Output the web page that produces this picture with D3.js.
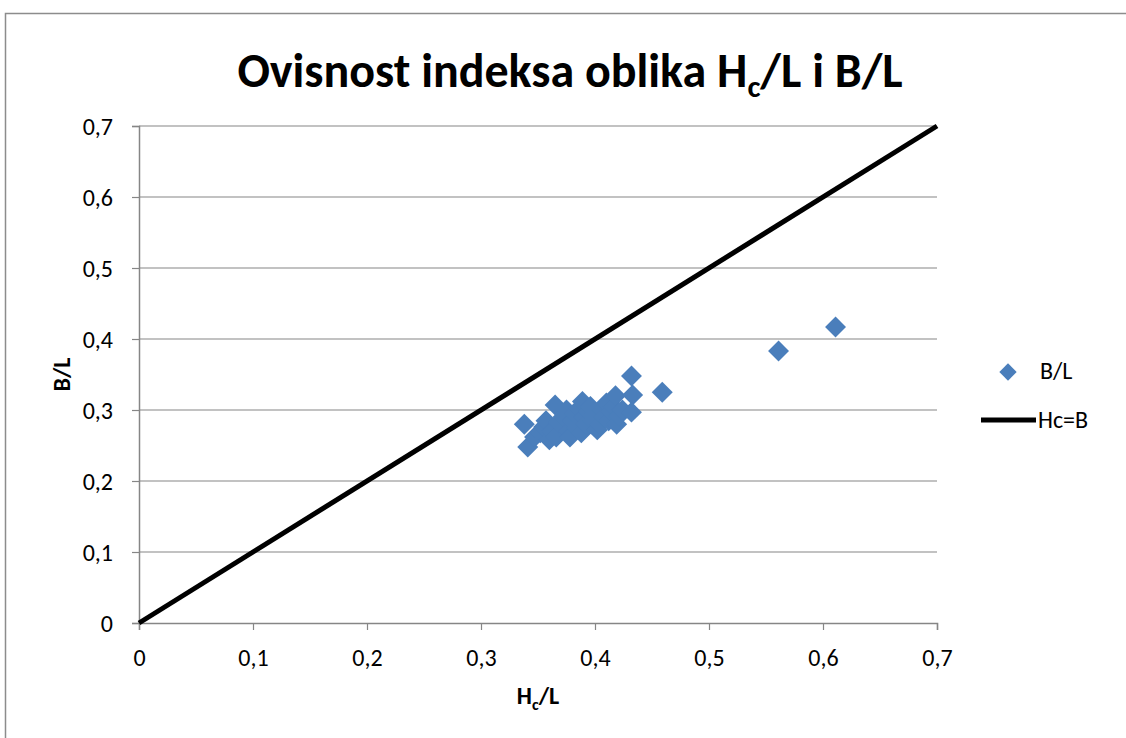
<!DOCTYPE html>
<html>
<head>
<meta charset="utf-8">
<script src="https://cdn.jsdelivr.net/npm/d3@7"></script>
<style>
body{margin:0;background:#fff;}
text{font-family:Carlito,"Liberation Sans Narrow","Open Sans",sans-serif;}
</style>
</head>
<body>
<div id="chart"></div>
<script>
// B/L vs Hc/L
var hcL = [0.338,0.341,0.347,0.352,0.355,0.357,0.360,0.362,0.365,0.366,0.368,0.372,0.375,0.377,0.378,0.380,0.382,0.384,0.386,0.388,0.389,0.390,0.392,0.394,0.396,0.398,0.400,0.402,0.404,0.406,0.408,0.410,0.412,0.414,0.416,0.418,0.419,0.421,0.424,0.432,0.433,0.432,0.459,0.561,0.611];
var bL  = [0.280,0.248,0.262,0.268,0.276,0.285,0.258,0.270,0.307,0.262,0.282,0.290,0.300,0.270,0.262,0.285,0.295,0.275,0.302,0.268,0.312,0.290,0.280,0.298,0.305,0.285,0.295,0.272,0.280,0.300,0.290,0.310,0.285,0.298,0.305,0.320,0.280,0.292,0.300,0.348,0.321,0.297,0.325,0.383,0.417];
var lineHc = [0,0.7];
var lineB  = [0,0.7];
var ticks = [0,0.1,0.2,0.3,0.4,0.5,0.6,0.7];

var W = 1126, H = 738;
var mLeft = 139, mRight = 937, mTop = 126, mBottom = 623;
var blue = "#4a7ebb";

var svg = d3.select("#chart").append("svg")
	.attr("width", W).attr("height", H);

svg.append("rect")
	.attr("x", 5.5).attr("y", 13.5)
	.attr("width", W+10).attr("height", H)
	.attr("fill", "#fff").attr("stroke", "#8c8c8c").attr("stroke-width", 1.5);

var x = d3.scaleLinear().domain([0,0.7]).range([mLeft,mRight]);
var y = d3.scaleLinear().domain([0,0.7]).range([mBottom,mTop]);
var fmt = function(d){ return d3.format(".1~f")(d).replace(".", ","); };

// grid
svg.append("g").selectAll("line")
	.data(ticks.slice(1))
	.enter().append("line")
	.attr("x1", mLeft).attr("x2", mRight)
	.attr("y1", function(d){return y(d);}).attr("y2", function(d){return y(d);})
	.attr("stroke", "#868686").attr("stroke-width", 1.2);

var xAxis = svg.append("g")
	.attr("transform", "translate(0,"+mBottom+")")
	.call(d3.axisBottom(x).tickValues(ticks).tickFormat(fmt).tickSize(7).tickPadding(19));
var yAxis = svg.append("g")
	.attr("transform", "translate("+mLeft+",0)")
	.call(d3.axisLeft(y).tickValues(ticks).tickFormat(fmt).tickSize(7).tickPadding(19));

[xAxis, yAxis].forEach(function(a){
	a.select(".domain").attr("stroke", "#868686").attr("stroke-width", 1.5);
	a.selectAll(".tick line").attr("stroke", "#868686").attr("stroke-width", 1.2);
	a.selectAll(".tick text").attr("fill", "#000").style("font-size", "24px");
});
yAxis.selectAll(".tick text").attr("dy", "0.35em");

// Hc=B line
svg.append("line")
	.attr("x1", x(lineHc[0])).attr("y1", y(lineB[0]))
	.attr("x2", x(lineHc[1])).attr("y2", y(lineB[1]))
	.attr("stroke", "#000").attr("stroke-width", 5);

// points
var diamond = d3.symbol().type(d3.symbolSquare).size(220);
svg.append("g").selectAll("path")
	.data(hcL)
	.enter().append("path")
	.attr("d", diamond)
	.attr("transform", function(d,i){ return "translate("+x(d)+","+y(bL[i])+") rotate(45)"; })
	.attr("fill", blue);

// title
var title = svg.append("text")
	.attr("x", 570).attr("y", 87)
	.attr("text-anchor", "middle")
	.style("font-size", "48px").style("font-weight", "bold");
title.append("tspan").text("Ovisnost indeksa oblika H");
title.append("tspan").attr("dy", 10).style("font-size", "31px").text("c");
title.append("tspan").attr("dy", -10).text("/L i B/L");

// axis titles
var xt = svg.append("text")
	.attr("x", 538).attr("y", 704)
	.attr("text-anchor", "middle")
	.style("font-size", "24px").style("font-weight", "bold");
xt.append("tspan").text("H");
xt.append("tspan").attr("dy", 6).style("font-size", "16px").text("c");
xt.append("tspan").attr("dy", -6).text("/L");

svg.append("text")
	.attr("transform", "translate(70,"+(y(0.35))+") rotate(-90)")
	.attr("text-anchor", "middle")
	.style("font-size", "24px").style("font-weight", "bold")
	.text("B/L");

// legend
svg.append("path")
	.attr("d", d3.symbol().type(d3.symbolSquare).size(150))
	.attr("transform", "translate(1008,372) rotate(45)")
	.attr("fill", blue);
svg.append("text").attr("x", 1040).attr("y", 379)
	.style("font-size", "24px").text("B/L");
svg.append("line")
	.attr("x1", 981).attr("x2", 1036).attr("y1", 420).attr("y2", 420)
	.attr("stroke", "#000").attr("stroke-width", 5);
svg.append("text").attr("x", 1038).attr("y", 428)
	.style("font-size", "24px").text("Hc=B");
</script>
</body>
</html>
